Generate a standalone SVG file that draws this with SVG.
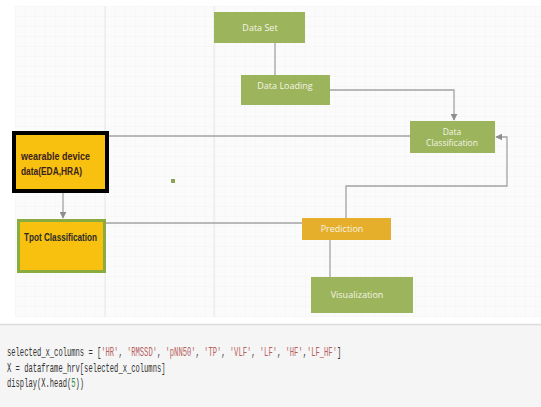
<svg xmlns="http://www.w3.org/2000/svg" width="541" height="407" viewBox="0 0 541 407">
<defs>
<style>
.g{fill:#9cb55c}
.lbl{font-family:"Open Sans","Liberation Sans",sans-serif;font-size:9px;fill:#f4f4e6;text-anchor:middle}
.sm{font-size:8.5px}
.bl{font-family:"Liberation Sans",sans-serif;font-size:10px;font-weight:bold}
.c{fill:none;stroke:#a3a3a3;stroke-width:1.3}
.code{font-family:"Liberation Mono",monospace;font-size:12px;fill:#333}
.s{fill:#b5605c}
.n{fill:#2e8b3e}
</style>
<pattern id="grid" width="10" height="10" patternUnits="userSpaceOnUse" x="15" y="6">
<path d="M10 0H0V10" fill="none" stroke="#ededed" stroke-width="0.6"/>
</pattern>
<marker id="ah" viewBox="0 0 10 10" refX="9" refY="5" markerWidth="7" markerHeight="7" orient="auto" markerUnits="userSpaceOnUse">
<path d="M0 0L10 5L0 10z" fill="#8e8e8e"/>
</marker>
</defs>
<rect width="541" height="407" fill="#ffffff"/>
<rect x="15" y="6" width="526" height="311" fill="#fbfbfb"/>
<rect x="15" y="6" width="526" height="311" fill="url(#grid)"/>
<g stroke="#e2e2e2" stroke-width="0.8">
<line x1="105" y1="6" x2="105" y2="317"/>
<line x1="214" y1="6" x2="214" y2="317"/>
</g>
<rect x="0" y="324" width="541" height="83" fill="#f5f5f5"/>
<line x1="0" y1="324.5" x2="541" y2="324.5" stroke="#dcdcdc" stroke-width="1.5"/>

<g id="connectors">
<path class="c" d="M275 43V75"/>
<path class="c" d="M330 90H454V120" marker-end="url(#ah)"/>
<path class="c" d="M109 136H410"/>
<path class="c" d="M346 218V186H507V137H496" marker-end="url(#ah)"/>
<path class="c" d="M63 193V218" marker-end="url(#ah)"/>
<path class="c" d="M106 223H302"/>
<path class="c" d="M330 240V277"/>
</g>

<g id="data-set">
<rect class="g" x="214" y="12" width="91" height="31"/>
<text class="lbl" x="260" y="31">Data Set</text>
</g>
<g id="data-loading">
<rect class="g" x="241" y="75" width="89" height="30"/>
<text class="lbl" x="285" y="89">Data Loading</text>
</g>
<g id="data-classification">
<rect class="g" x="410" y="121" width="85" height="32"/>
<text class="lbl sm" x="452" y="135">Data</text>
<text class="lbl sm" x="452" y="146">Classification</text>
</g>
<g id="wearable">
<rect x="14" y="133" width="93" height="58" fill="#f9c10f" stroke="#000" stroke-width="4"/>
<text class="bl" x="21" y="160" fill="#3b2320" textLength="69" lengthAdjust="spacingAndGlyphs">wearable device</text>
<text class="bl" x="21" y="175" fill="#3b2320" textLength="61" lengthAdjust="spacingAndGlyphs">data(EDA,HRA)</text>
</g>
<g id="tpot">
<rect x="18.5" y="220.5" width="86" height="51" fill="#f9c10f" stroke="#8aac3f" stroke-width="3"/>
<text class="bl" x="24" y="241" fill="#2b2b2b" textLength="73" lengthAdjust="spacingAndGlyphs">Tpot Classification</text>
</g>
<g id="prediction">
<rect x="302" y="218" width="89" height="22" fill="#e5ae2b"/>
<text class="lbl" x="342" y="232">Prediction</text>
</g>
<g id="visualization">
<rect class="g" x="311" y="277" width="102" height="36"/>
<text class="lbl" x="357" y="298">Visualization</text>
</g>
<rect id="dot" x="171" y="179" width="4" height="4" fill="#8ea355"/>

<g id="code" transform="translate(7,0) scale(0.596,1)">
<text class="code" x="0" y="356">selected_x_columns = [<tspan class="s">'HR'</tspan>, <tspan class="s">'RMSSD'</tspan>, <tspan class="s">'pNN50'</tspan>, <tspan class="s">'TP'</tspan>, <tspan class="s">'VLF'</tspan>, <tspan class="s">'LF'</tspan>, <tspan class="s">'HF'</tspan>,<tspan class="s">'LF_HF'</tspan>]</text>
<text class="code" x="0" y="372">X = dataframe_hrv[selected_x_columns]</text>
<text class="code" x="0" y="387">display(X.head(<tspan class="n">5</tspan>))</text>
</g>
</svg>
